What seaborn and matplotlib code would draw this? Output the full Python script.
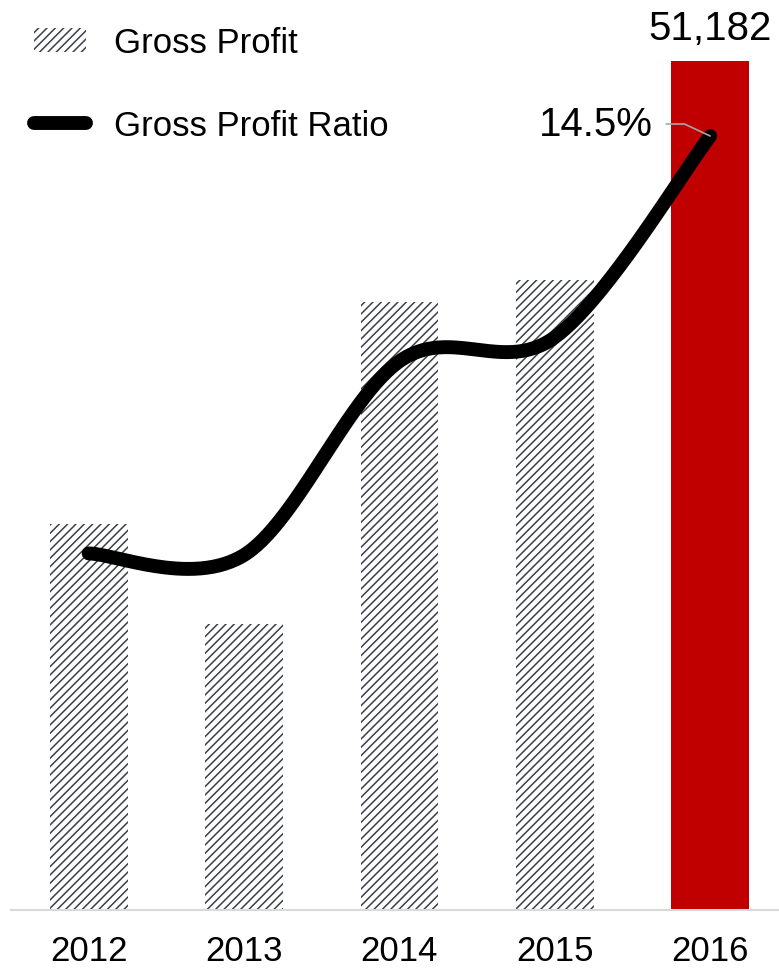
import numpy as np
import pandas as pd
import matplotlib
matplotlib.use("Agg")
import matplotlib.pyplot as plt
import seaborn as sns
from matplotlib.patches import Patch
from matplotlib.lines import Line2D

# ---- data ----
years = ["2012", "2013", "2014", "2015", "2016"]
gross_profit = [23270, 17240, 36660, 37980, 51182]
gross_profit_ratio = [6.68, 6.65, 10.28, 10.73, 14.5]

sns.set_style("white")
plt.rcParams["font.family"] = ["Liberation Sans", "DejaVu Sans"]
plt.rcParams["hatch.linewidth"] = 1.1
plt.rcParams["text.color"] = "black"
plt.rcParams["xtick.color"] = "black"
plt.rcParams["xtick.labelcolor"] = "black"

fig = plt.figure(figsize=(7.79, 9.70), dpi=100)
W, H = 779, 970
ax = fig.add_axes([11 / W, (H - 911) / H, (W - 11) / W, 911 / H])

df = pd.DataFrame({"year": years, "gp": gross_profit})
sns.barplot(data=df, x="year", y="gp", ax=ax, width=0.5,
            color="white", saturation=1, linewidth=0, errorbar=None)
hatch_col = "#3c4046"
for i, p in enumerate(ax.patches):
    if i == len(years) - 1:
        p.set_facecolor("#C00000")
        p.set_edgecolor("#C00000")
        p.set_hatch(None)
    else:
        p.set_facecolor("white")
        p.set_edgecolor(hatch_col)
        p.set_hatch("////")
        p.set_linewidth(0)

ymax = 51182 * 911 / 849
ax.set_ylim(0, ymax)
ax.set_xlim(-0.5, 4.443)

# label on last bar
ax.bar_label(ax.containers[0], labels=["", "", "", "", f"{gross_profit[-1]:,}"],
             padding=10, fontsize=29, color="black")

ax.set_xlabel("")
ax.set_ylabel("")
ax.set_yticks([])
ax.tick_params(axis="x", length=0, pad=17, labelsize=25, labelcolor="black")
for s in ["top", "right", "left"]:
    ax.spines[s].set_visible(False)
ax.spines["bottom"].set_color("#D9D9D9")
ax.spines["bottom"].set_linewidth(1.5)

# ---- smoothed ratio line on secondary axis ----
ax2 = ax.twinx()
ax2.set_ylim(0, 14.5 * 911 / 774)
xs = np.arange(len(years), dtype=float)
ys = np.array(gross_profit_ratio, dtype=float)
n = len(xs)
cx, cy = [], []
t = np.linspace(0, 1, 60)
for i in range(n - 1):
    p0 = np.array([xs[i], ys[i]])
    p1 = np.array([xs[i + 1], ys[i + 1]])
    pm = np.array([xs[max(i - 1, 0)], ys[max(i - 1, 0)]])
    pp = np.array([xs[min(i + 2, n - 1)], ys[min(i + 2, n - 1)]])
    c1 = p0 + (p1 - pm) / 6
    c2 = p1 - (pp - p0) / 6
    b = ((1 - t) ** 3)[:, None] * p0 + (3 * (1 - t) ** 2 * t)[:, None] * c1 \
        + (3 * (1 - t) * t ** 2)[:, None] * c2 + (t ** 3)[:, None] * p1
    cx.extend(b[:, 0]); cy.extend(b[:, 1])
curve = pd.DataFrame({"x": cx, "y": cy})
sns.lineplot(data=curve, x="x", y="y", ax=ax2, color="black", linewidth=10,
             sort=False, estimator=None, solid_capstyle="round")
ax2.set_yticks([])
ax2.set_ylabel("")
ax2.set_xlabel("")
for s in ["top", "right", "left", "bottom"]:
    ax2.spines[s].set_visible(False)

ax2.annotate(f"{gross_profit_ratio[-1]}%", xy=(4, gross_profit_ratio[-1]),
             xytext=(-57, 12), textcoords="offset pixels",
             ha="right", va="center", fontsize=29, color="black",
             arrowprops=dict(arrowstyle="-", color="#A6A6A6", lw=1.2,
                             shrinkA=7, shrinkB=0,
                             connectionstyle="angle,angleA=0,angleB=155"))

# ---- legend ----
handles = [Patch(facecolor="white", edgecolor=hatch_col, hatch="////", linewidth=0),
           Line2D([0], [0], color="black", linewidth=10, solid_capstyle="round")]
leg = fig.legend(handles, ["Gross Profit", "Gross Profit Ratio"],
                 loc="upper left", bbox_to_anchor=(34 / W, 1 - 27 / H),
                 frameon=False, fontsize=25, handlelength=1.5,
                 handletextpad=0.8, labelspacing=1.45, borderpad=0,
                 borderaxespad=0)
for txt in leg.get_texts():
    txt.set_color("black")

fig.savefig("out.png", dpi=100)
